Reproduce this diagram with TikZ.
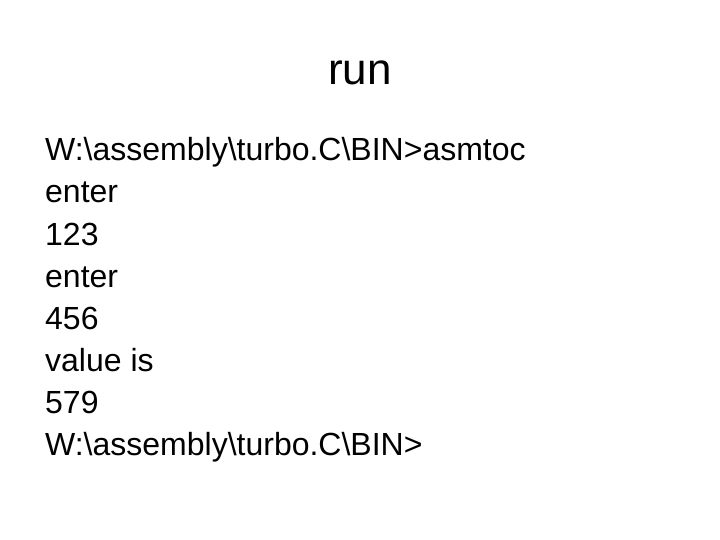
\documentclass[tikz,border=0pt]{standalone}
\usepackage{fontspec}
\setmainfont{Liberation Sans}
\begin{document}
\begin{tikzpicture}[x=1pt,y=-1pt,
  body/.style={anchor=base west,inner sep=0pt,font=\fontsize{32}{32}\selectfont}]
\useasboundingbox (0,0) rectangle (720,540);
\node[anchor=base,inner sep=0pt,font=\fontsize{44}{44}\selectfont] (title) at (360,85) {run};
\node[body] (l1) at (45,161) {W:\textbackslash assembly\textbackslash turbo.C\textbackslash BIN>asmtoc};
\node[body] (l2) at (45,203) {enter};
\node[body] (l3) at (45,245) {123};
\node[body] (l4) at (45,287) {enter};
\node[body] (l5) at (45,329) {456};
\node[body] (l6) at (45,371) {value is};
\node[body] (l7) at (45,413) {579};
\node[body] (l8) at (45,455) {W:\textbackslash assembly\textbackslash turbo.C\textbackslash BIN>};
\end{tikzpicture}
\end{document}
